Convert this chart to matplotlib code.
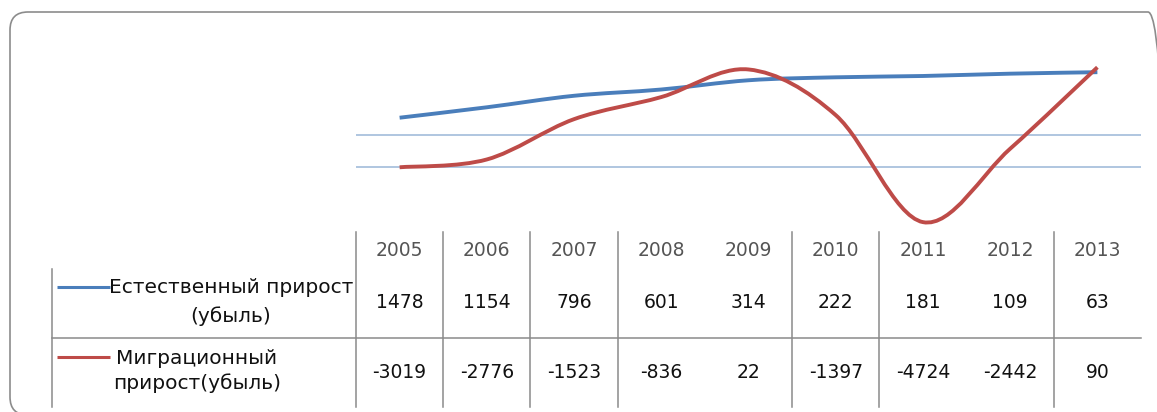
import numpy as np
import matplotlib
matplotlib.use("Agg")
import matplotlib.pyplot as plt
from matplotlib.path import Path
from matplotlib.patches import PathPatch, FancyBboxPatch
from matplotlib.transforms import blended_transform_factory

# data (table values as printed)
years = ["2005", "2006", "2007", "2008", "2009", "2010", "2011", "2012", "2013"]
natural = [1478, 1154, 796, 601, 314, 222, 181, 109, 63]          # natural decrease, plotted as negative
migration = [-3019, -2776, -1523, -836, 22, -1397, -4724, -2442, 90]
series_names = ["Естественный прирост\n(убыль)", "Миграционный\nприрост(убыль)"]
grid_values = [-2000, -3000]

BLUE = "#4a7ebb"
RED = "#be4b48"
GRID = "#a9c1dd"
LINEC = "#8a8a8a"

W, H = 1157, 412
fig = plt.figure(figsize=(W / 100, H / 100), dpi=100)

# frame (normal y direction so the rounded corners come out right)
fr = fig.add_axes([0, 0, 1, 1])
fr.set_xlim(0, W)
fr.set_ylim(0, H)
fr.axis("off")
fr.add_patch(FancyBboxPatch((10, -3), 1156, 403, boxstyle="round,pad=0,rounding_size=18",
                            fill=False, edgecolor="#8c8c8c", lw=1.2))

# overlay in pixel coordinates (top-down) for the table
ov = fig.add_axes([0, 0, 1, 1])
ov.set_xlim(0, W)
ov.set_ylim(H, 0)
ov.axis("off")

# plot area
px_l, px_r, px_t, px_b = 356, 1141, 38, 231
ax = fig.add_axes([px_l / W, (H - px_b) / H, (px_r - px_l) / W, (px_b - px_t) / H])
ax.set_xlim(-0.5, len(years) - 0.5)
ax.set_ylim(-5000, 1000)
ax.axis("off")


def smooth_path(x, y):
    # excel-like smoothed line: bezier segments through the data points
    pts = np.column_stack([x, y]).astype(float)
    n = len(pts)
    verts = [pts[0]]
    codes = [Path.MOVETO]
    for i in range(n - 1):
        p0 = pts[i - 1] if i > 0 else pts[i]
        p1 = pts[i]
        p2 = pts[i + 1]
        p3 = pts[i + 2] if i + 2 < n else pts[i + 1]
        c1 = p1 + (p2 - p0) / 6.0
        c2 = p2 - (p3 - p1) / 6.0
        verts += [c1, c2, p2]
        codes += [Path.CURVE4] * 3
    return Path(verts, codes)


xs = np.arange(len(years))
for gv in grid_values:
    ax.axhline(gv, color=GRID, lw=1.3, zorder=1)

ax.add_patch(PathPatch(smooth_path(xs, -np.array(natural)), fill=False,
                       edgecolor=BLUE, lw=2.8, zorder=3, capstyle="butt"))
ax.add_patch(PathPatch(smooth_path(xs, migration), fill=False,
                       edgecolor=RED, lw=2.8, zorder=4, capstyle="butt"))

# data table
tr = blended_transform_factory(ax.transData, ov.transData)
tab_top, row1_top, row_mid, tab_bot = 232, 269, 338, 407
visible_sep = [-0.5, 0.5, 1.5, 2.5, 4.5, 5.5, 7.5]
for s in visible_sep:
    ov.plot([s, s], [tab_top, tab_bot], color=LINEC, lw=1.1, transform=tr)
ov.plot([52, 52], [row1_top, tab_bot], color=LINEC, lw=1.1)
ov.plot([52, px_r], [row_mid, row_mid], color=LINEC, lw=1.1)

for i, yr in enumerate(years):
    ov.text(i, 250, yr, transform=tr, ha="center", va="center", fontsize=13.5, color="#555555")
    ov.text(i, 303, str(natural[i]), transform=tr, ha="center", va="center", fontsize=13.5, color="#111111")
    ov.text(i, 372, str(migration[i]), transform=tr, ha="center", va="center", fontsize=13.5, color="#111111")

# legend keys
ov.plot([57, 110], [287, 287], color=BLUE, lw=2.2, solid_capstyle="butt")
ov.plot([57, 110], [357, 357], color=RED, lw=2.2, solid_capstyle="butt")
ov.text(231, 302, series_names[0], ha="center", va="center", fontsize=14.5,
        color="#111111", linespacing=1.55)
ov.text(197, 371, series_names[1], ha="center", va="center", fontsize=14.5,
        color="#111111", linespacing=1.3)

fig.savefig("out.png", dpi=100)
